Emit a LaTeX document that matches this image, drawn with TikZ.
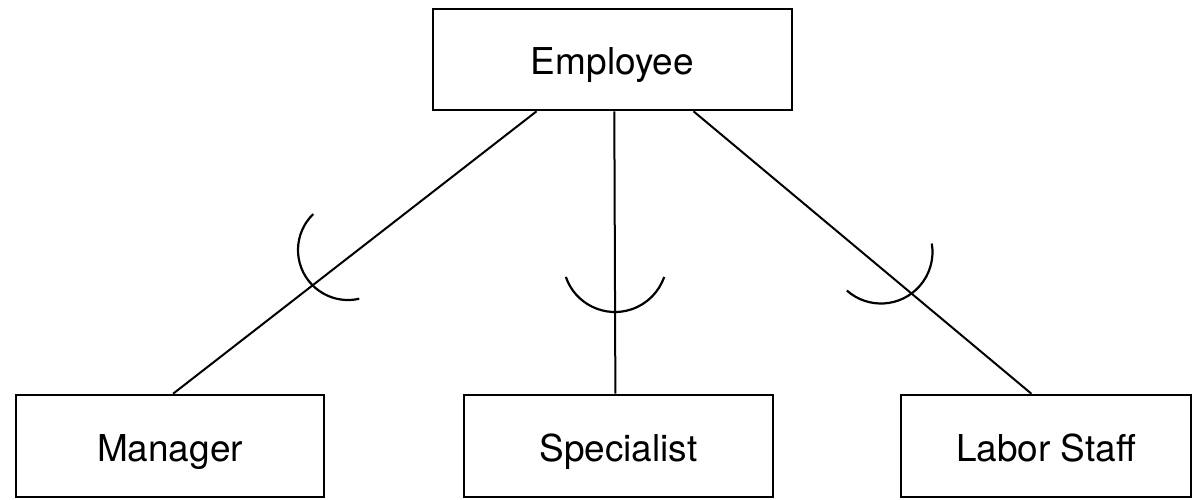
\documentclass[tikz,border=0pt]{standalone}
\usepackage{fontspec}
\setmainfont{TeX Gyre Heros}
\usetikzlibrary{calc}

\begin{document}
\begin{tikzpicture}[x=0.5pt, y=0.5pt,
	entity/.style={draw, line width=1.3pt, minimum height=51pt, inner sep=0pt, text height=15pt, text depth=0pt, font=\fontsize{18.5}{22}\selectfont},
	link/.style={line width=1pt},
	subset/.style={line width=1.1pt}]

\useasboundingbox (0,0) rectangle (1194,-499);

\node[entity, minimum width=179.5pt, minimum height=50.5pt] (employee) at (612.5,-59.5) {Employee};
\node[entity, minimum width=154pt] (manager) at (170,-446) {Manager};
\node[entity, minimum width=154.5pt] (specialist) at (618.5,-446) {Specialist};
\node[entity, minimum width=145pt] (labor) at (1046,-446) {Labor Staff};

\draw[link] ($(employee.south west)!.29!(employee.south east)$) -- ($(manager.north west)!.51!(manager.north east)$);
\draw[link] ($(employee.south west)!.505!(employee.south east)$) -- ($(specialist.north west)!.49!(specialist.north east)$);
\draw[link] ($(employee.south west)!.724!(employee.south east)$) -- ($(labor.north west)!.45!(labor.north east)$);

% subset marks
\draw[subset] ([shift={(134:50)}]348,-250) arc[start angle=134, end angle=283, radius=50];
\draw[subset] ([shift={(199:52)}]615,-260) arc[start angle=199, end angle=341, radius=52];
\draw[subset] ([shift={(228.5:51.5)}]881,-252) arc[start angle=228.5, end angle=369.5, radius=51.5];

\end{tikzpicture}
\end{document}
